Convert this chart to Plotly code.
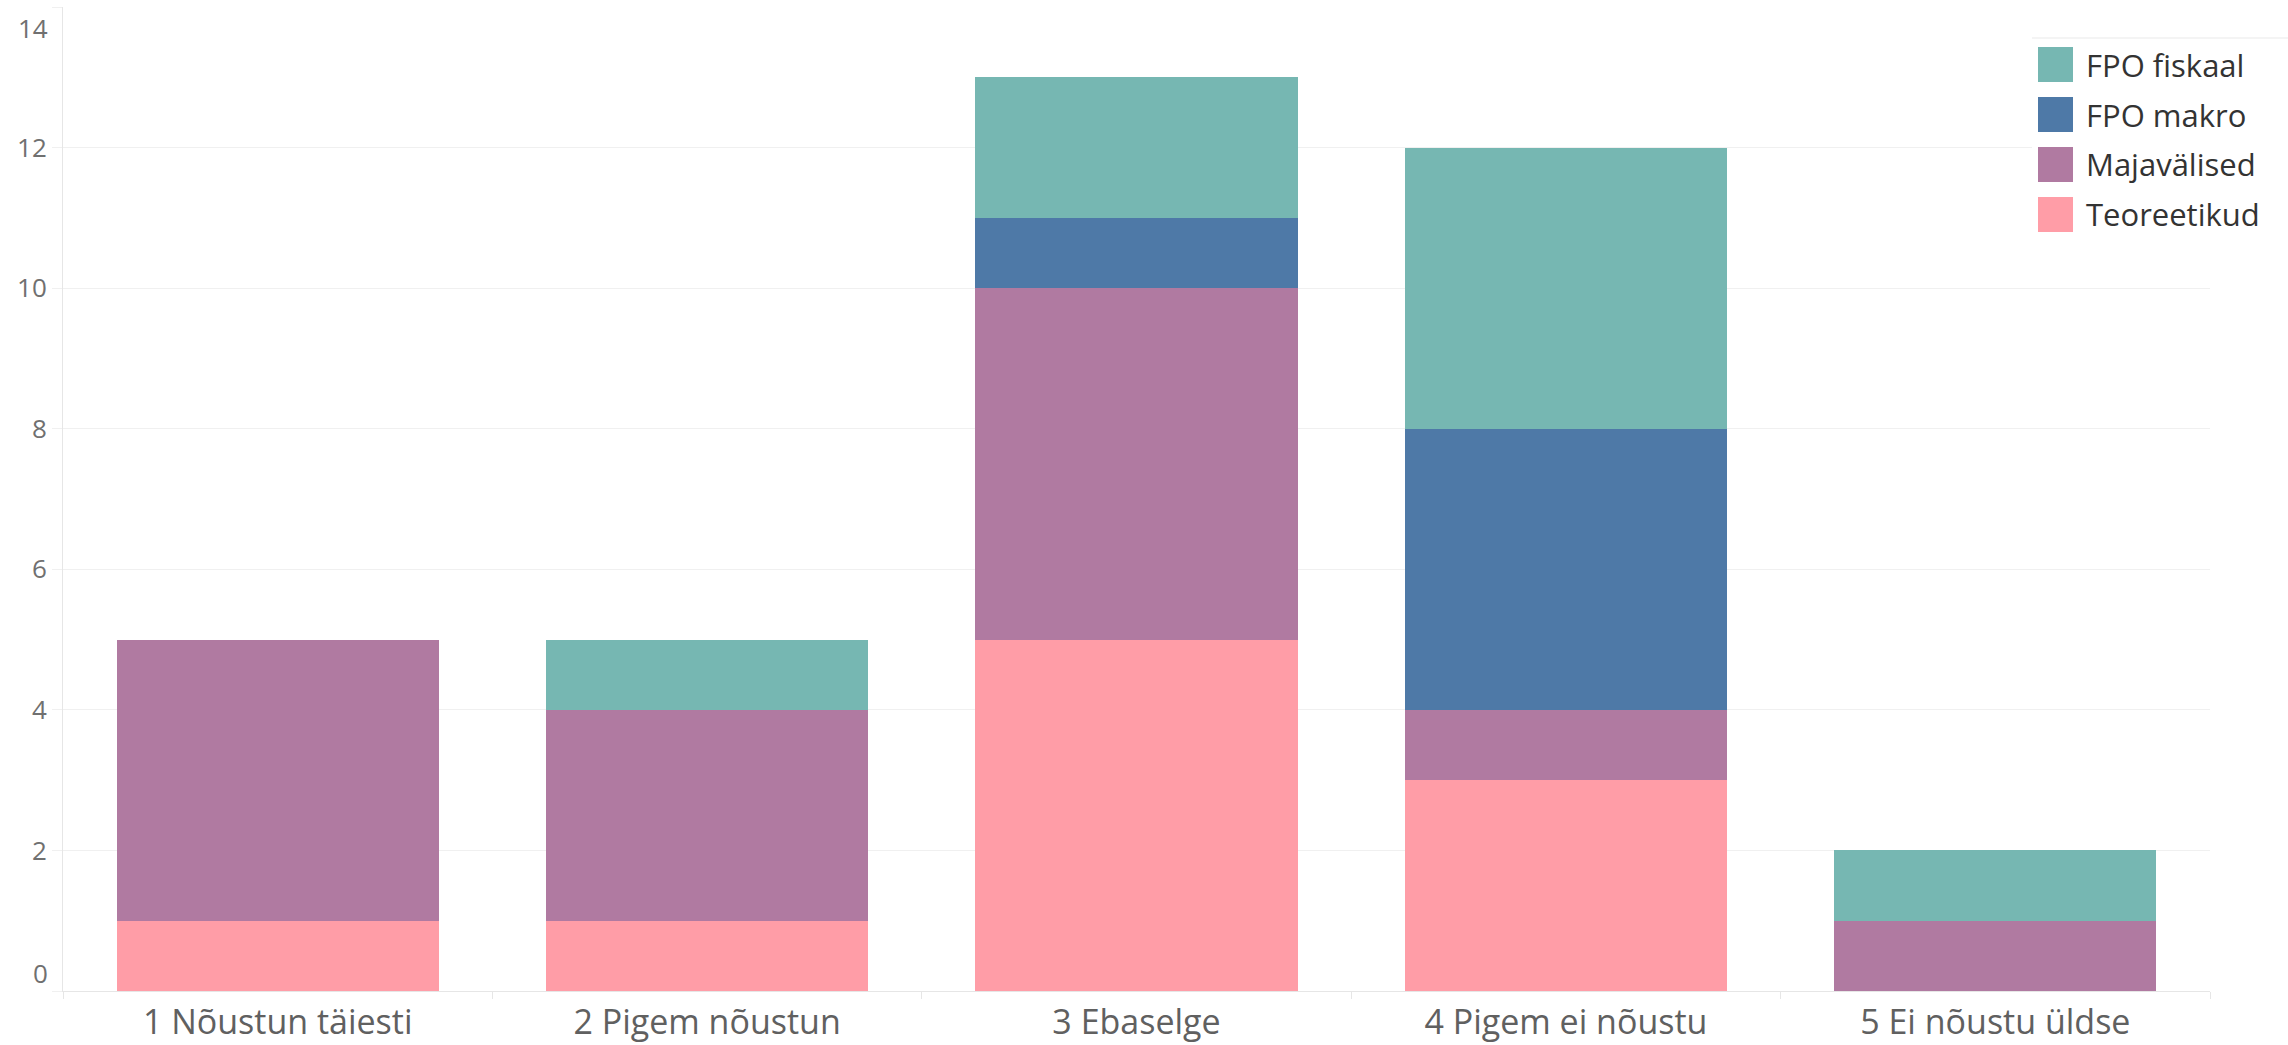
import plotly.graph_objects as go

# ---- data ----
categories = ["1 Nõustun täiesti", "2 Pigem nõustun", "3 Ebaselge", "4 Pigem ei nõustu", "5 Ei nõustu üldse"]
teoreetikud = [1, 1, 5, 3, 0]
majavalised = [4, 3, 5, 1, 1]
fpo_makro = [0, 0, 1, 4, 0]
fpo_fiskaal = [0, 1, 2, 4, 1]
series_names = ["Teoreetikud", "Majavälised", "FPO makro", "FPO fiskaal"]
series_values = [teoreetikud, majavalised, fpo_makro, fpo_fiskaal]
series_colors = ["#FF9DA7", "#B07AA1", "#4E79A7", "#76B7B2"]
y_ticks = [0, 2, 4, 6, 8, 10, 12, 14]
y_tick_labels = ["0", "2", "4", "6", "8", "10", "12", "14"]

W, H = 2288, 1045
L, R, T, B = 63, 2210, 7, 991  # plot area in pixels

def px(xp):
    return (xp - L) / (R - L)

def py(yp):
    return (B - yp) / (B - T)

fig = go.Figure()
for name, vals, col in zip(series_names, series_values, series_colors):
    fig.add_trace(go.Bar(x=categories, y=vals, name=name, marker_color=col,
                         marker_line_width=0, showlegend=False))

FONT = "Open Sans"
TICK_FONT = dict(size=26, color="#707070", family=FONT)
# end labels are nudged inward (as in the reference) via annotations; inner ones are axis tick labels
inner_text = [t if v not in (y_ticks[0], y_ticks[-1]) else "" for v, t in zip(y_ticks, y_tick_labels)]

fig.update_layout(
    width=W, height=H,
    margin=dict(l=L, r=W - R, t=T, b=H - B, pad=0, autoexpand=False),
    barmode="stack", bargap=0.25,
    plot_bgcolor="white", paper_bgcolor="white",
    font=dict(family=FONT, color="#666666"),
    xaxis=dict(type="category", showgrid=False, showline=True, linecolor="#e6e6e6", linewidth=1,
               ticks="outside", tickson="boundaries", ticklen=7, tickcolor="#e6e6e6",
               tickfont=dict(size=34, color="#606060"), ticklabelstandoff=1, automargin=False),
    yaxis=dict(range=[0, 14], tickvals=y_ticks, ticktext=inner_text, showgrid=True, gridcolor="#f0f0f0",
               zeroline=False, showline=True, linecolor="#e6e6e6", linewidth=1,
               ticks="outside", ticklen=10, tickcolor="#f0f0f0",
               tickfont=TICK_FONT, automargin=False),
)

annotations = []
for v, t, shift in ((y_ticks[-1], y_tick_labels[-1], -21), (y_ticks[0], y_tick_labels[0], 18)):
    annotations.append(dict(xref="paper", yref="y", x=px(50), y=v, yshift=shift, text=t, showarrow=False,
                            xanchor="right", yanchor="middle", font=TICK_FONT))

# legend panel (covers gridlines behind it)
shapes = [
    dict(type="rect", xref="paper", yref="paper", x0=px(2032), x1=px(2288), y0=py(250), y1=py(38),
         fillcolor="white", line=dict(width=0), layer="above"),
    dict(type="line", xref="paper", yref="paper", x0=px(2032), x1=px(2288), y0=py(38), y1=py(38),
         line=dict(color="#f0f0f0", width=1.5), layer="above"),
]
legend_order = list(zip(series_names, series_colors))[::-1]
for i, (name, col) in enumerate(legend_order):
    yc = 64.5 + 50 * i
    shapes.append(dict(type="rect", xref="paper", yref="paper", x0=px(2038), x1=px(2073),
                       y0=py(yc + 17.5), y1=py(yc - 17.5), fillcolor=col, line=dict(width=0), layer="above"))
    annotations.append(dict(xref="paper", yref="paper", x=px(2084), y=py(yc), text=name, showarrow=False,
                            xanchor="left", yanchor="middle", font=dict(size=31, color="#333333", family=FONT)))
fig.update_layout(shapes=shapes, annotations=annotations)

# remove the browser's default page margin so the figure fills the window exactly
fig.write_html("out.html", config={"displayModeBar": False},
               post_script="document.body.style.margin='0';")
